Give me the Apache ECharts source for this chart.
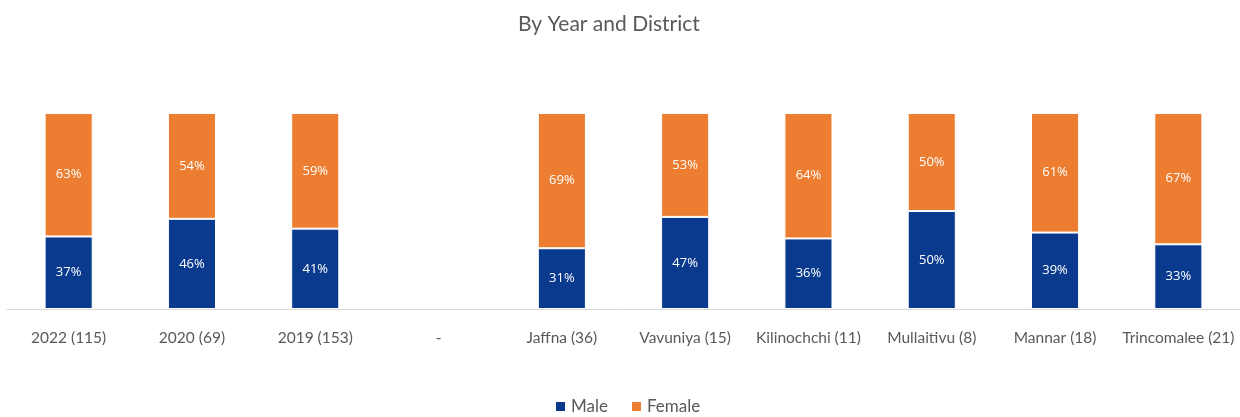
<!DOCTYPE html>
<html><head><meta charset="utf-8">
<script src="https://cdn.jsdelivr.net/npm/echarts@6/dist/echarts.min.js"></script>
<style>html,body{margin:0;padding:0;background:#fff}#c{width:1240px;height:417px}</style>
</head><body><div id="c"></div>
<script>
const categories = ['2022 (115)','2020 (69)','2019 (153)','-','Jaffna (36)','Vavuniya (15)','Kilinochchi (11)','Mullaitivu (8)','Mannar (18)','Trincomalee (21)'];
const male = [37,46,41,null,31,47,36,50,39,33];
const female = [63,54,59,null,69,53,64,50,61,67];
const chart = echarts.init(document.getElementById('c'));
const lbl = {show:true, position:'inside', color:'#ffffff', fontSize:13, fontFamily:'Open Sans', formatter: p => p.value + '%'};
chart.setOption({
  animation:false,
  title:{text:'By Year and District', left:513, top:9, textStyle:{fontFamily:'Lato', fontSize:21, fontWeight:'normal', color:'#595959'}},
  legend:{top:398, left:554, padding:0, itemWidth:11, itemHeight:11, itemGap:22, icon:'rect', textStyle:{fontFamily:'Lato', fontSize:17, color:'#595959'}, data:['Male','Female']},
  grid:{left:7, right:0, top:113, bottom:108},
  xAxis:{type:'category', data:categories, axisLine:{lineStyle:{color:'#d9d9d9', width:1}}, axisTick:{show:false}, axisLabel:{fontFamily:'Lato', fontSize:15.5, color:'#595959', margin:21, interval:0}},
  yAxis:{type:'value', min:0, max:100, show:false, splitLine:{show:false}},
  series:[
    {name:'Male', type:'bar', stack:'s', data:male, barWidth:'39%', itemStyle:{color:'#0A3A8E', borderColor:'#ffffff', borderWidth:1}, label:lbl},
    {name:'Female', type:'bar', stack:'s', data:female, barWidth:'39%', itemStyle:{color:'#ED7D31', borderColor:'#ffffff', borderWidth:1}, label:lbl}
  ]
});
</script></body></html>
